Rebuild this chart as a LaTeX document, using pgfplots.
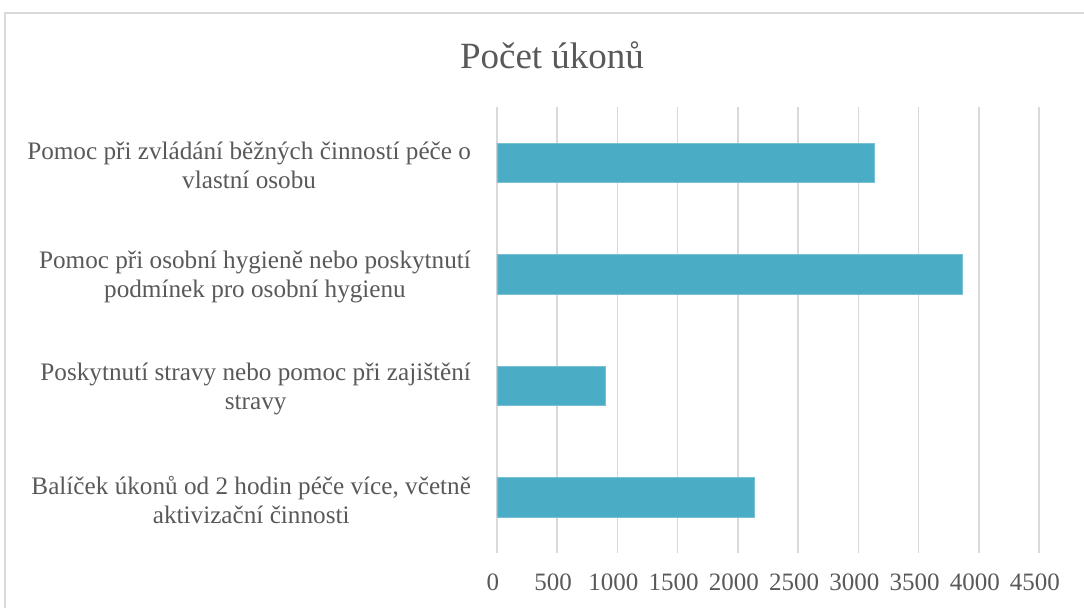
\documentclass[border=0pt]{standalone}
\usepackage{pgfplots}
\pgfplotsset{compat=1.18}
\usepackage{fontspec}
\setmainfont{Liberation Serif}
\definecolor{barblue}{HTML}{4BACC6}
\definecolor{txtgray}{HTML}{595959}
\definecolor{gridgray}{HTML}{D9D9D9}
\begin{document}
\begin{tikzpicture}
\useasboundingbox (0,0) rectangle (542pt,-304pt);
% chart frame (cropped at right and bottom)
\draw[gridgray, line width=1pt] (2.5pt,-350pt) -- (2.5pt,-6.5pt) -- (600pt,-6.5pt);
\node[txtgray, font=\fontsize{18.5}{22}\selectfont] at (276pt,-27.5pt) {Počet úkonů};
\begin{axis}[
    at={(248.5pt,-276.5pt)}, anchor=south west,
    scale only axis, width=271pt, height=223pt,
    xbar, bar width=0.354,
    xmin=0, xmax=4500,
    ymin=-0.5, ymax=3.5, y dir=reverse,
    xtick={0,500,...,4500},
    ytick={0,1,2,3},
    yticklabels={
      {Pomoc při zvládání běžných činností péče o\\vlastní osobu},
      {Pomoc při osobní hygieně nebo poskytnutí\\podmínek pro osobní hygienu},
      {Poskytnutí stravy nebo pomoc při zajištění\\stravy},
      {Balíček úkonů od 2 hodin péče více, včetně\\aktivizační činnosti}},
    xmajorgrids, grid style={gridgray, line width=0.8pt},
    axis line style={draw=none},
    major tick length=0pt,
    /pgf/number format/assume math mode=true,
    /pgf/number format/1000 sep={},
    xticklabel style={txtgray, font=\fontsize{12.5}{14}\selectfont, yshift=-7pt, xshift=-2pt},
    yticklabel style={txtgray, font=\fontsize{12.6}{14.4}\selectfont, align=center, xshift=-9.5pt, yshift=-1.5pt},
]
\addplot[fill=barblue, draw=barblue!75!white, line width=0.4pt]
    coordinates {(3130,0) (3865,1) (900,2) (2135,3)};
\end{axis}
\end{tikzpicture}
\end{document}
